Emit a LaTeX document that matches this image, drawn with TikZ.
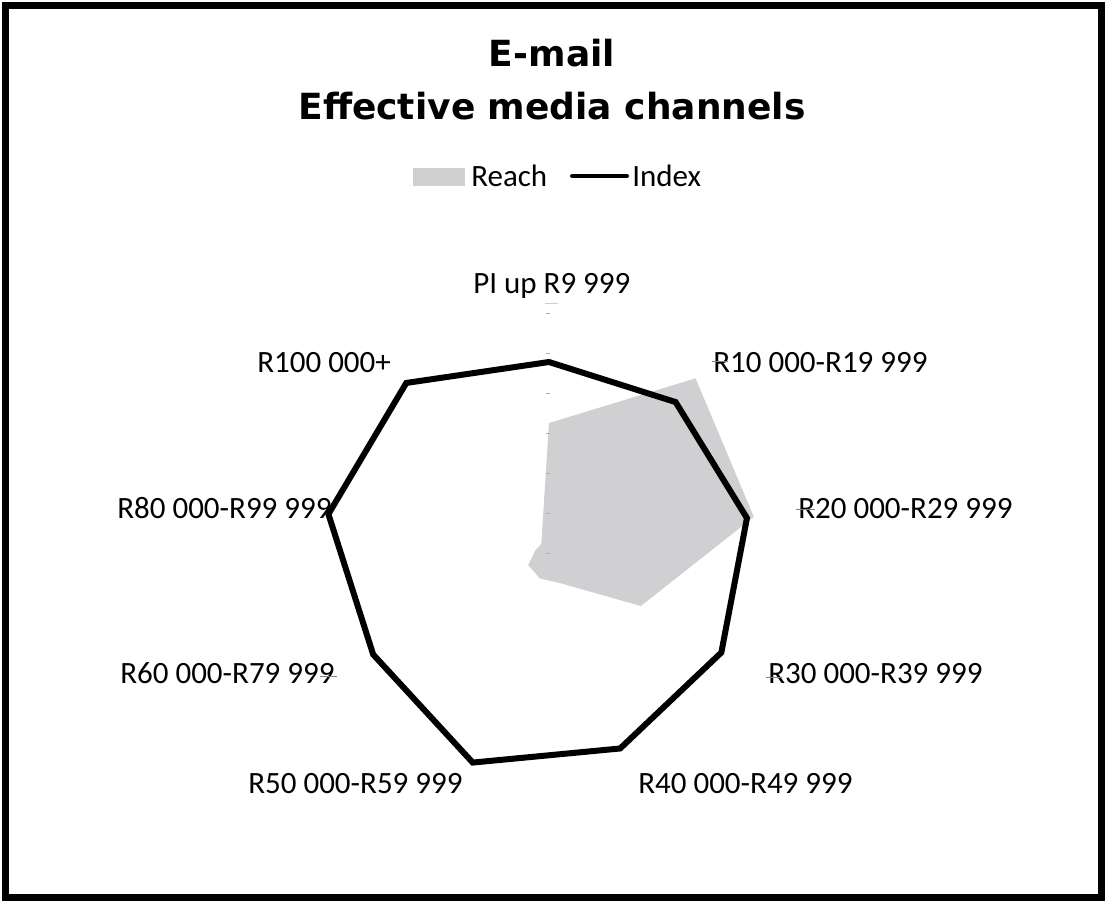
\documentclass[tikz,border=0pt]{standalone}
\usepackage{fontspec}
\setmainfont{Carlito}
\newfontfamily\headfont{DejaVu Sans}
\usetikzlibrary{calc,positioning}

\definecolor{reachgray}{RGB}{208,207,209}
\definecolor{tickgray}{RGB}{175,175,175}

\newcommand{\catsize}{\fontsize{23.25pt}{28pt}\selectfont}
\newcommand{\headsize}{\headfont\bfseries\fontsize{27pt}{32pt}\selectfont}

\tikzset{
  cat/.style={font=\catsize, inner sep=0pt, anchor=base west},
  head/.style={font=\headsize, inner sep=0pt, anchor=base},
  tickmark/.style={draw=tickgray, line width=0.75pt},
  indexline/.style={line width=4.5pt, line join=miter},
}

\begin{document}
\begin{tikzpicture}[x=0.75pt,y=-0.75pt]
   \useasboundingbox (0,0) rectangle (1107,901);
   \draw[line width=5.25pt] (5,5) rectangle (1101.5,897.5);

   % title
   \node[head] (title1) at (552,66) {E-mail};
   \node[head] (title2) at (552,119) {Effective media channels};

   % legend
   \fill[reachgray] (413,168) rectangle (465,186);
   \node[cat] (keyreach) at (471,186) {Reach};
   \coordinate (keyline) at (572,176);
   \node[cat] (keyindex) at (632,186) {Index};
   \draw[line width=3pt, line cap=round] (keyline) -- ++(55,0);

   % radar centre and spokes
   \coordinate (c) at (549,553);
   \foreach \r [count=\i from 0] in {130,228,208,106,32,27,24,14,12}
      \coordinate (re\i) at ({549+\r*sin(40*\i)},{553-\r*cos(40*\i)});
   \foreach \r [count=\i from 0] in {191,197,201,199,208,223,203,224,222}
      \coordinate (ix\i) at ({549+\r*sin(40*\i)},{553-\r*cos(40*\i)});

   \fill[reachgray] (re0) -- (re1) -- (re2) -- (re3) -- (re4) -- (re5)
      -- (re6) -- (re7) -- (re8) -- cycle;

   % value axis ticks
   \foreach \k in {0,...,6}
      \draw[tickmark] ($(c)+(-3,-40*\k)$) -- ++(4,0);
   \draw[draw=tickgray!60, line width=0.6pt] (545,303) -- (558,303);

   \draw[indexline] (ix0) -- (ix1) -- (ix2) -- (ix3) -- (ix4) -- (ix5)
      -- (ix6) -- (ix7) -- (ix8) -- cycle;

   % category labels
   \node[cat] (cat0) at (473,293) {PI up R9 999};
   \node[cat] (cat1) at (713,372) {R10 000-R19 999};
   \node[cat] (cat2) at (798,518) {R20 000-R29 999};
   \node[cat] (cat3) at (768,683) {R30 000-R39 999};
   \node[cat] (cat4) at (638,793) {R40 000-R49 999};
   \node[cat] (cat5) at (248,793) {R50 000-R59 999};
   \node[cat] (cat6) at (120,683) {R60 000-R79 999};
   \node[cat] (cat7) at (117,518) {R80 000-R99 999};
   \node[cat] (cat8) at (257,372) {R100 000+};

   % category ticks
   \draw[tickmark, draw=gray] (712,361) -- (728,361);
   \draw[tickmark, draw=gray] (796,509) -- (815,509);
   \draw[tickmark, draw=gray] (766,677) -- (782,677);
   \draw[tickmark, draw=gray] (320,676) -- (337,676);
\end{tikzpicture}
\end{document}
